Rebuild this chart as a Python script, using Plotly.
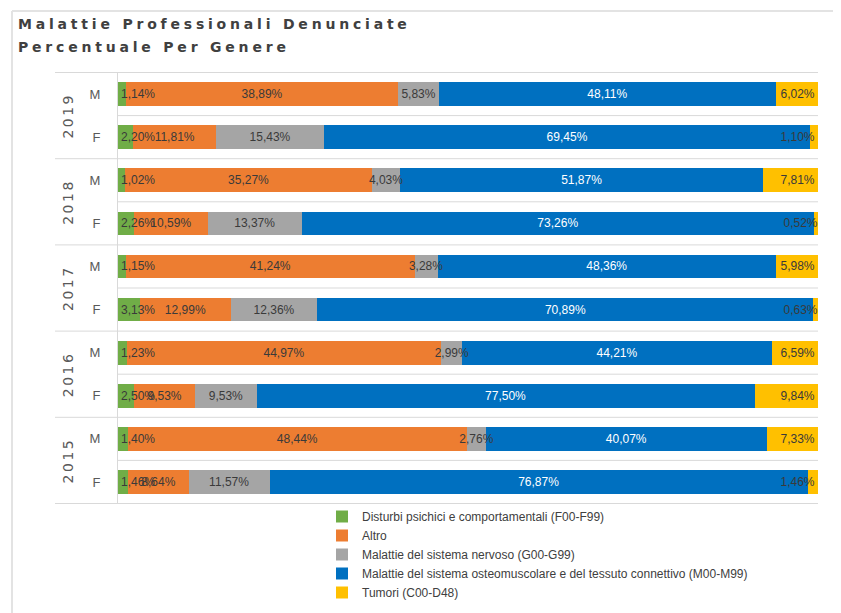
import plotly.graph_objects as go

# ---- data ----
years = ["2019", "2018", "2017", "2016", "2015"]
genders = ["M", "F"]
series_names = [
    "Disturbi psichici e comportamentali (F00-F99)",
    "Altro",
    "Malattie del sistema nervoso (G00-G99)",
    "Malattie del sistema osteomuscolare e del tessuto connettivo (M00-M99)",
    "Tumori (C00-D48)",
]
# rows: 2019 M, 2019 F, 2018 M, 2018 F, ... 2015 M, 2015 F
disturbi = [1.14, 2.20, 1.02, 2.26, 1.15, 3.13, 1.23, 2.50, 1.40, 1.46]
altro = [38.89, 11.81, 35.27, 10.59, 41.24, 12.99, 44.97, 9.53, 48.44, 8.64]
nervoso = [5.83, 15.43, 4.03, 13.37, 3.28, 12.36, 2.99, 9.53, 2.76, 11.57]
osteo = [48.11, 69.45, 51.87, 73.26, 48.36, 70.89, 44.21, 77.50, 40.07, 76.87]
tumori = [6.02, 1.10, 7.81, 0.52, 5.98, 0.63, 6.59, 9.84, 7.33, 1.46]

colors = ["#70AD47", "#ED7D31", "#A5A5A5", "#0070C0", "#FFC000"]
text_colors = ["#3A3A3A", "#3A3A3A", "#3A3A3A", "#FFFFFF", "#3A3A3A"]
anchors = ["start", "middle", "middle", "middle", "end"]

rows = [f"{y} {g}" for y in years for g in genders]
row_labels = [g for y in years for g in genders]

# ---- geometry (screen pixels; page body has an 8px margin) ----
OFF = 8
SW, SH = 841, 613
W, H = SW - OFF, SH - OFF
L, R, T, B = 118 - OFF, 818 - OFF, 72 - OFF, 504 - OFF
def px(x):
    return (x - OFF - L) / (R - L)
def py(y):
    return (B - (y - OFF)) / (B - T)

XR = [0, 100.02]  # tiny headroom so rounding of the 100% stack never leaves the range

fig = go.Figure()
all_vals = [disturbi, altro, nervoso, osteo, tumori]
for name, vals, col in zip(series_names, all_vals, colors):
    fig.add_trace(go.Bar(
        y=rows, x=vals, name=name, orientation="h",
        marker=dict(color=col, line=dict(width=0)),
        hoverinfo="skip",
    ))
# data labels on an overlaid axis so that every label sits above every bar
for name, vals, tcol, anc in zip(series_names, all_vals, text_colors, anchors):
    fig.add_trace(go.Bar(
        y=rows, x=vals, name=name, orientation="h", xaxis="x2", showlegend=False,
        marker=dict(color="rgba(0,0,0,0)", line=dict(width=0)),
        text=[f"{v:.2f}".replace(".", ",") + "%" for v in vals],
        textposition="inside", insidetextanchor=anc, textangle=0,
        textfont=dict(family="Liberation Sans", size=12, color=tcol),
        cliponaxis=False, hoverinfo="skip",
    ))

grid = "#D9D9D9"
shapes = []
for k in range(len(years) + 1):
    yb = 2 * k - 0.5
    shapes.append(dict(type="line", xref="paper", yref="y", x0=px(55), x1=1, y0=yb, y1=yb,
                       line=dict(color=grid, width=1), layer="below"))
for k in range(len(years)):
    yb = 2 * k + 0.5
    shapes.append(dict(type="line", xref="paper", yref="y", x0=0, x1=1, y0=yb, y1=yb,
                       line=dict(color=grid, width=1), layer="below"))
shapes.append(dict(type="line", xref="paper", yref="paper", x0=px(12), x1=px(12), y0=py(11), y1=py(SH + 5),
                   line=dict(color="#E3E3E3", width=2)))
shapes.append(dict(type="line", xref="paper", yref="paper", x0=px(12), x1=px(SW + 5), y0=py(11), y1=py(11),
                   line=dict(color="#E3E3E3", width=2)))

annotations = []
title_style = "letter-spacing:3.8px"
annotations.append(dict(xref="paper", yref="paper", x=px(16), y=py(24.5), xanchor="left", yanchor="middle",
                        text=f"<b><span style='{title_style}'>Malattie Professionali Denunciate</span></b>",
                        showarrow=False, font=dict(family="DejaVu Sans", size=14, color="#404040")))
annotations.append(dict(xref="paper", yref="paper", x=px(16), y=py(46.5), xanchor="left", yanchor="middle",
                        text=f"<b><span style='{title_style}'>Percentuale Per Genere</span></b>",
                        showarrow=False, font=dict(family="DejaVu Sans", size=14, color="#404040")))
for k, yr in enumerate(years):
    annotations.append(dict(xref="paper", yref="y", x=px(68), y=2 * k + 0.5, xanchor="center", yanchor="middle",
                            text=f"<span style='letter-spacing:2.5px'>{yr}</span>", textangle=-90, showarrow=False,
                            font=dict(family="DejaVu Sans", size=14, color="#595959")))

fig.update_layout(
    width=W, height=H,
    margin=dict(l=L, r=W - R, t=T, b=H - B, autoexpand=False),
    barmode="stack", barnorm="percent", bargap=0.45,
    paper_bgcolor="white", plot_bgcolor="white",
    showlegend=True,
    legend=dict(x=px(322), xanchor="left", y=py(607), yanchor="bottom", orientation="v",
                font=dict(family="Liberation Sans", size=12, color="#404040"),
                itemwidth=30, bgcolor="rgba(0,0,0,0)", traceorder="normal"),
    uniformtext=dict(mode="show", minsize=12),
    xaxis=dict(range=XR, visible=False, fixedrange=True),
    xaxis2=dict(range=XR, visible=False, fixedrange=True, overlaying="x"),
    yaxis=dict(type="category", categoryorder="array", categoryarray=rows, autorange="reversed",
               tickvals=rows, ticktext=row_labels, showgrid=False, zeroline=False,
               showline=True, linecolor=grid, linewidth=1, ticks="",
               ticklabelstandoff=14, automargin=False,
               tickfont=dict(family="Liberation Sans", size=13, color="#595959")),
    shapes=shapes, annotations=annotations,
)

fig.write_html("out.html")
